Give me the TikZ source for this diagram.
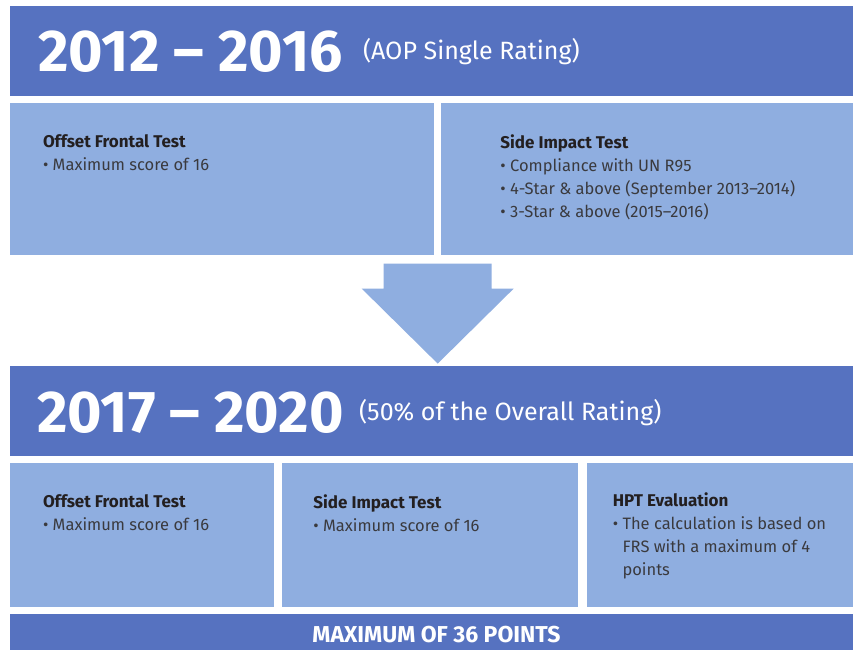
\documentclass[tikz,border=0pt]{standalone}
\usepackage{fontspec}
\setmainfont{Fira Sans}
\usepackage{xcolor}
\usetikzlibrary{positioning, calc}

\definecolor{bannerblue}{RGB}{86,114,192}
\definecolor{cardblue}{RGB}{143,174,224}
\definecolor{headink}{RGB}{35,31,32}
\definecolor{bodyink}{RGB}{58,58,62}
\newcommand{\bul}{\textbullet~}
\newcommand{\hang}{\phantom{\textbullet~}}
\newcommand{\head}[1]{{\fontsize{17}{23}\selectfont\bfseries\color{headink}#1}}

\begin{document}
\begin{tikzpicture}[
    x=1pt, y=1pt,
    banner/.style={rectangle, fill=bannerblue, minimum width=843pt, minimum height=90pt, inner sep=0pt},
    card/.style={rectangle, fill=cardblue, minimum height=152pt, inner sep=0pt},
    year/.style={text=white, inner sep=0pt, font=\fontsize{59}{64}\selectfont\bfseries},
    note/.style={text=white, inner sep=0pt, font=\fontsize{25}{30}\selectfont},
    info/.style={inner sep=0pt, align=left, text=bodyink, font=\fontsize{16.5}{23}\selectfont},
    bigarrow/.style={fill=cardblue}
]
\useasboundingbox (0,0) rectangle (853,-649);

% 2012 - 2016
\node[banner] (era1) at (431.5,-51) {};
\node[year, anchor=base west] (era1year) at ([shift={(28,-66)}]era1.north west) {2012 – 2016};
\node[note, right=20pt of era1year] (era1note) {(AOP Single Rating)};

\node[card, minimum width=424pt, below right=7pt and 0pt of era1.south west] (frontal1) {};
\node[card, minimum width=412pt, right=7pt of frontal1] (side1) {};
\node[info, below right=31pt and 33pt of frontal1.north west] (frontal1txt) {\head{Offset Frontal Test}\\ \bul Maximum score of 16};
\node[info, below right=31pt and 59pt of side1.north west] (side1txt) {\head{Side Impact Test}\\ \bul Compliance with UN R95\\ \bul 4-Star \& above (September 2013–2014)\\ \bul 3-Star \& above (2015–2016)};

% block arrow
\path ($(frontal1.south east)!.5!(side1.south west)$) ++(0,-8) coordinate (arrtop);
\fill[bigarrow] (arrtop) ++(-54,0) -- ++(108,0) -- ++(0,-25) -- ++(22,0) -- ++(-76,-75) coordinate (arrtip) -- ++(-76,75) -- ++(22,0) -- cycle;

% 2017 - 2020
\node[banner, below right=110pt and 0pt of frontal1.south west] (era2) {};
\node[year, anchor=base west] (era2year) at ([shift={(27,-67)}]era2.north west) {2017 – 2020};
\node[note, right=15pt of era2year] (era2note) {(50\% of the Overall Rating)};

\node[card, minimum width=264pt, minimum height=144pt, below right=7pt and 0pt of era2.south west] (frontal2) {};
\node[card, minimum width=296pt, minimum height=144pt, right=8pt of frontal2] (side2) {};
\node[card, minimum width=267pt, minimum height=144pt, right=8pt of side2] (hpt2) {};
\node[info, below right=31pt and 33pt of frontal2.north west] (frontal2txt) {\head{Offset Frontal Test}\\ \bul Maximum score of 16};
\node[info, below right=31pt and 31pt of side2.north west] (side2txt) {\head{Side Impact Test}\\ \bul Maximum score of 16};
\node[info, below right=29pt and 26pt of hpt2.north west] (hpt2txt) {\head{HPT Evaluation}\\ \bul The calculation is based on\\ \hang FRS with a maximum of 4\\ \hang points};

\node[banner, minimum height=42pt, below right=6pt and 0pt of frontal2.south west, text=white, font=\fontsize{23}{26}\selectfont\bfseries] (total) {\hspace*{10pt}MAXIMUM OF 36 POINTS};

\end{tikzpicture}
\end{document}
